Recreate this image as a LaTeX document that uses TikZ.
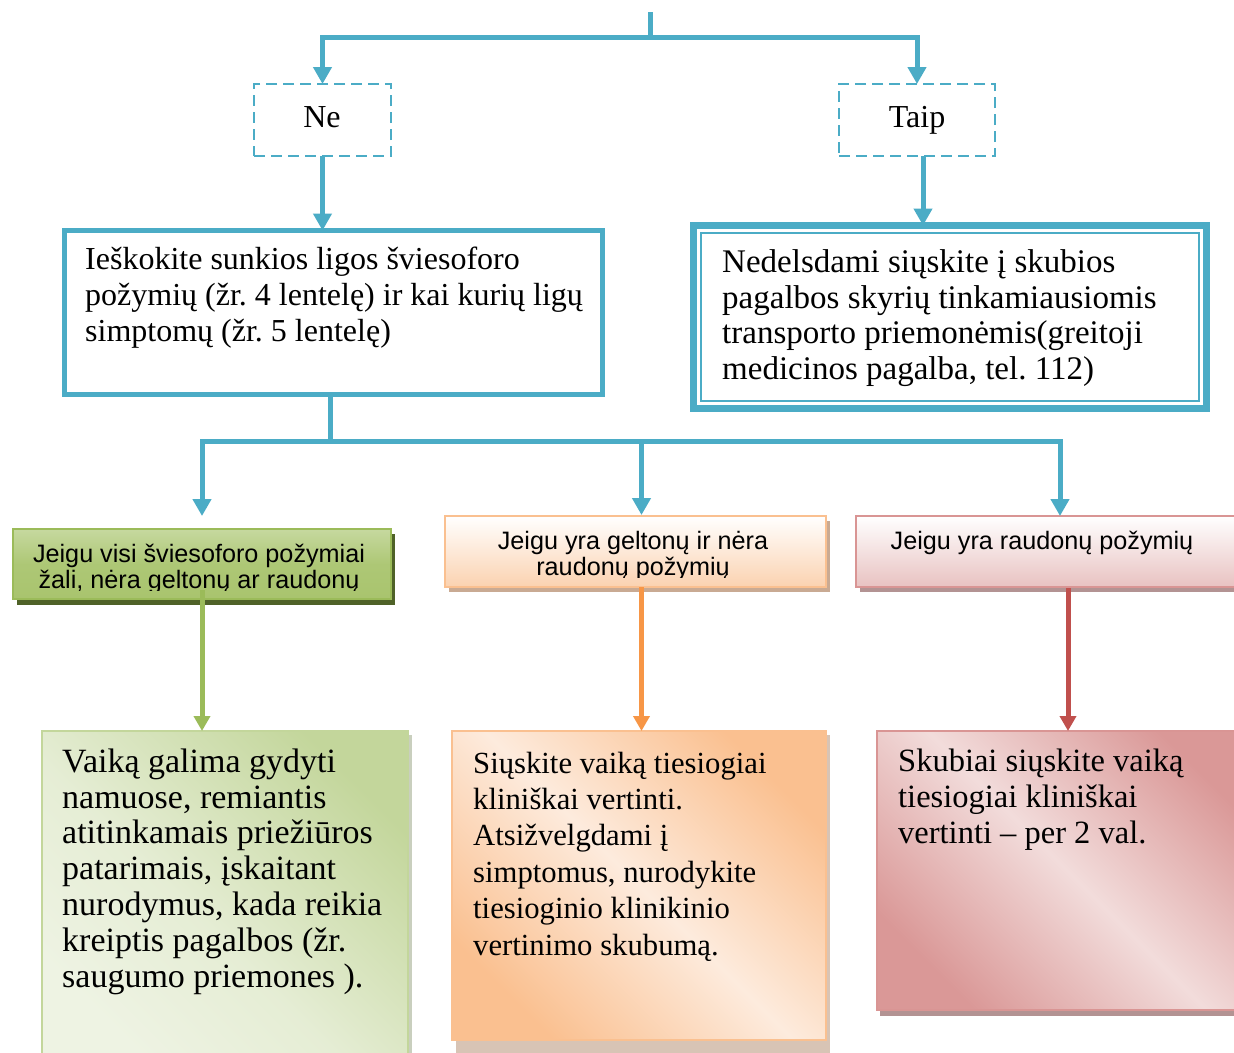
\documentclass[tikz,border=0pt]{standalone}
\usepackage{fontspec}
\setmainfont{Liberation Serif}
\setsansfont{Liberation Sans}
\usetikzlibrary{arrows.meta,calc}
\definecolor{blu}{HTML}{4BACC6}
\definecolor{grB}{HTML}{9BBB59}
\definecolor{grT}{HTML}{C6D99F}
\definecolor{grM}{HTML}{A9C46E}
\definecolor{grS}{HTML}{4F6228}
\definecolor{grD}{HTML}{C3D69B}
\definecolor{grL}{HTML}{EEF3E3}
\definecolor{grBS}{HTML}{C9CFBE}
\definecolor{orA}{HTML}{F79646}
\definecolor{orB}{HTML}{FAC090}
\definecolor{orH}{HTML}{FBD2B0}
\definecolor{orS}{HTML}{C9AA93}
\definecolor{orD}{HTML}{FAC090}
\definecolor{orL}{HTML}{FDEBDD}
\definecolor{orBS}{HTML}{D8C4B5}
\definecolor{rdA}{HTML}{C0504D}
\definecolor{rdB}{HTML}{D99594}
\definecolor{rdH}{HTML}{E8C2C1}
\definecolor{rdS}{HTML}{B39393}
\definecolor{rdD}{HTML}{DA9897}
\definecolor{rdL}{HTML}{F2DCDB}
\pgfdeclarehorizontalshading{greendiag}{100bp}{color(0bp)=(grL); color(25bp)=(grL); color(45bp)=(grL!80!grD); color(75bp)=(grD); color(100bp)=(grD)}
\pgfdeclarehorizontalshading{orangediag}{100bp}{color(0bp)=(orD); color(25bp)=(orD); color(50bp)=(orL); color(75bp)=(orD); color(100bp)=(orD)}
\pgfdeclarehorizontalshading{reddiag}{100bp}{color(0bp)=(rdD); color(25bp)=(rdD); color(50bp)=(rdL); color(75bp)=(rdD); color(100bp)=(rdD)}
\newcommand\hdrfnt{\sffamily\fontsize{25.2}{26.5}\selectfont}
\tikzset{
  box/.style={rectangle, anchor=north west, inner sep=0pt, outer sep=0pt},
  bodytxt/.style={anchor=base west, inner sep=0pt, align=left},
  hdrtxt/.style={anchor=base, inner sep=0pt, align=center, font=\hdrfnt},
  bl/.style={draw=blu, line width=5pt},
  blarrow/.style={bl, -{Triangle[width=18pt,length=17pt]}},
  dashbox/.style={box, draw=blu, line width=2pt, dash pattern=on 11pt off 6pt},
  colarrow/.style={line width=5pt, -{Triangle[width=16pt,length=15pt]}},
}
\begin{document}
\frenchspacing
\begin{tikzpicture}[x=1pt,y=-1pt]
\useasboundingbox[fill=white] (0,0) rectangle (1234,1052);

% top decision boxes
\node[dashbox, minimum width=137pt, minimum height=72pt] (ne) at (254,84) {};
\node[dashbox, minimum width=156pt, minimum height=72pt] (taip) at (839,84) {};
\node[anchor=base, inner sep=0pt, font=\fontsize{32}{36}\selectfont] at (322,127) {Ne};
\node[anchor=base, inner sep=0pt, font=\fontsize{32}{36}\selectfont] at (917,127) {Taip};

% big boxes
\node[box, draw=blu, line width=5pt, minimum width=538pt, minimum height=164pt] (lbox) at (64.5,230.5) {};
\node[bodytxt, font=\fontsize{32}{36}\selectfont] at (85,341) {Ieškokite sunkios ligos šviesoforo\\požymių (žr. 4 lentelę) ir kai kurių ligų\\simptomų (žr. 5 lentelę)};
\node[box, draw=blu, line width=7pt, minimum width=513pt, minimum height=183pt] (rbox) at (693.5,225.5) {};
\draw[blu, line width=2pt] ($(rbox.north west)+(7.5,7.5)$) rectangle ($(rbox.south east)+(-7.5,-7.5)$);
\node[bodytxt, font=\fontsize{33}{35.5}\selectfont] at (722,379) {Nedelsdami siųskite į skubios\\pagalbos skyrių tinkamiausiomis\\transporto priemonėmis(greitoji\\medicinos pagalba, tel. 112)};

% header boxes (shadows first)
\fill[grS] (17,534) rectangle (395,605);
\node[box, draw=grB, line width=2pt, top color=grT, bottom color=grM, middle color=grM!85!grT, minimum width=378pt, minimum height=70pt] (gh) at (13,529) {};
\begin{scope}
\clip (13,529) rectangle (391,590);
\node[hdrtxt] at (199,588.5) {Jeigu visi šviesoforo požymiai\\žali, nėra geltonų ar raudonų};
\end{scope}

\fill[orS] (449,521) rectangle (830,592);
\node[box, draw=orB, line width=2pt, top color=white, bottom color=orH, minimum width=381pt, minimum height=71pt] (oh) at (445,516) {};
\begin{scope}
\clip (445,516) rectangle (826,577);
\node[hdrtxt] at (633,575.5) {Jeigu yra geltonų ir nėra\\raudonų požymių};
\end{scope}

\fill[rdS] (860,521) rectangle (1250,592);
\node[box, draw=rdB, line width=2pt, top color=white, bottom color=rdH, minimum width=400pt, minimum height=71pt] (rh) at (856,516) {};
\node[hdrtxt] at (1042,549) {Jeigu yra raudonų požymių};

% bottom boxes
\fill[grBS] (46,735) rectangle (412,1060);
\node[box, draw=grD, line width=2pt, shading=greendiag, shading angle=45, minimum width=366pt, minimum height=330pt] (gb) at (42,731) {};
\node[bodytxt, font=\fontsize{34}{35.8}\selectfont] at (62,987) {Vaiką galima gydyti\\namuose, remiantis\\atitinkamais priežiūros\\patarimais, įskaitant\\nurodymus, kada reikia\\kreiptis pagalbos (žr.\\saugumo priemones ).};

\fill[orBS] (456,735) rectangle (830,1060);
\node[box, draw=orB, line width=2pt, shading=orangediag, shading angle=45, minimum width=374pt, minimum height=309pt] (ob) at (452,731) {};
\node[bodytxt, font=\fontsize{30.7}{36.4}\selectfont] at (473,955) {Siųskite vaiką tiesiogiai\\kliniškai vertinti.\\Atsižvelgdami į\\simptomus, nurodykite\\tiesioginio klinikinio\\vertinimo skubumą.};

\fill[rdS] (880,737) rectangle (1250,1016);
\node[box, draw=rdB, line width=2pt, shading=reddiag, shading angle=45, minimum width=380pt, minimum height=279pt] (rb) at (877,731) {};
\node[bodytxt, font=\fontsize{32.5}{36}\selectfont] at (898,843) {Skubiai siųskite vaiką\\tiesiogiai kliniškai\\vertinti -- per 2 val.};

% blue connectors
\coordinate (top) at (650,12);
\coordinate (rtop) at (1060,515);
\draw[blarrow] (top) -- ++(0,25) -| (ne.north);
\draw[blarrow] (top) -- ++(0,25) -| (taip.north);
\draw[blarrow] (ne.south) -- (ne.south |- lbox.north);
\draw[blarrow] ([xshift=6pt]taip.south) -- ([xshift=6pt]taip.south |- rbox.north);
\coordinate (split) at ($(lbox.south)+(-3,47)$);
\draw[bl] ([xshift=-3pt]lbox.south) -- (split);
\draw[blarrow] (split) -| ([yshift=13pt]gh.north);
\draw[blarrow] (split) -| ([xshift=6pt,yshift=1pt]oh.north);
\draw[blarrow] (split) -| (rtop |- rh.north);

% coloured connectors
\draw[colarrow, grB] ([yshift=9pt]gh.south) -- (gb.north -| gh.south);
\draw[colarrow, orA] ([xshift=6pt]oh.south) -- ([xshift=6pt]oh.south |- ob.north);
\draw[colarrow, rdA] (1068,588) -- (1068,731);
\end{tikzpicture}
\end{document}
